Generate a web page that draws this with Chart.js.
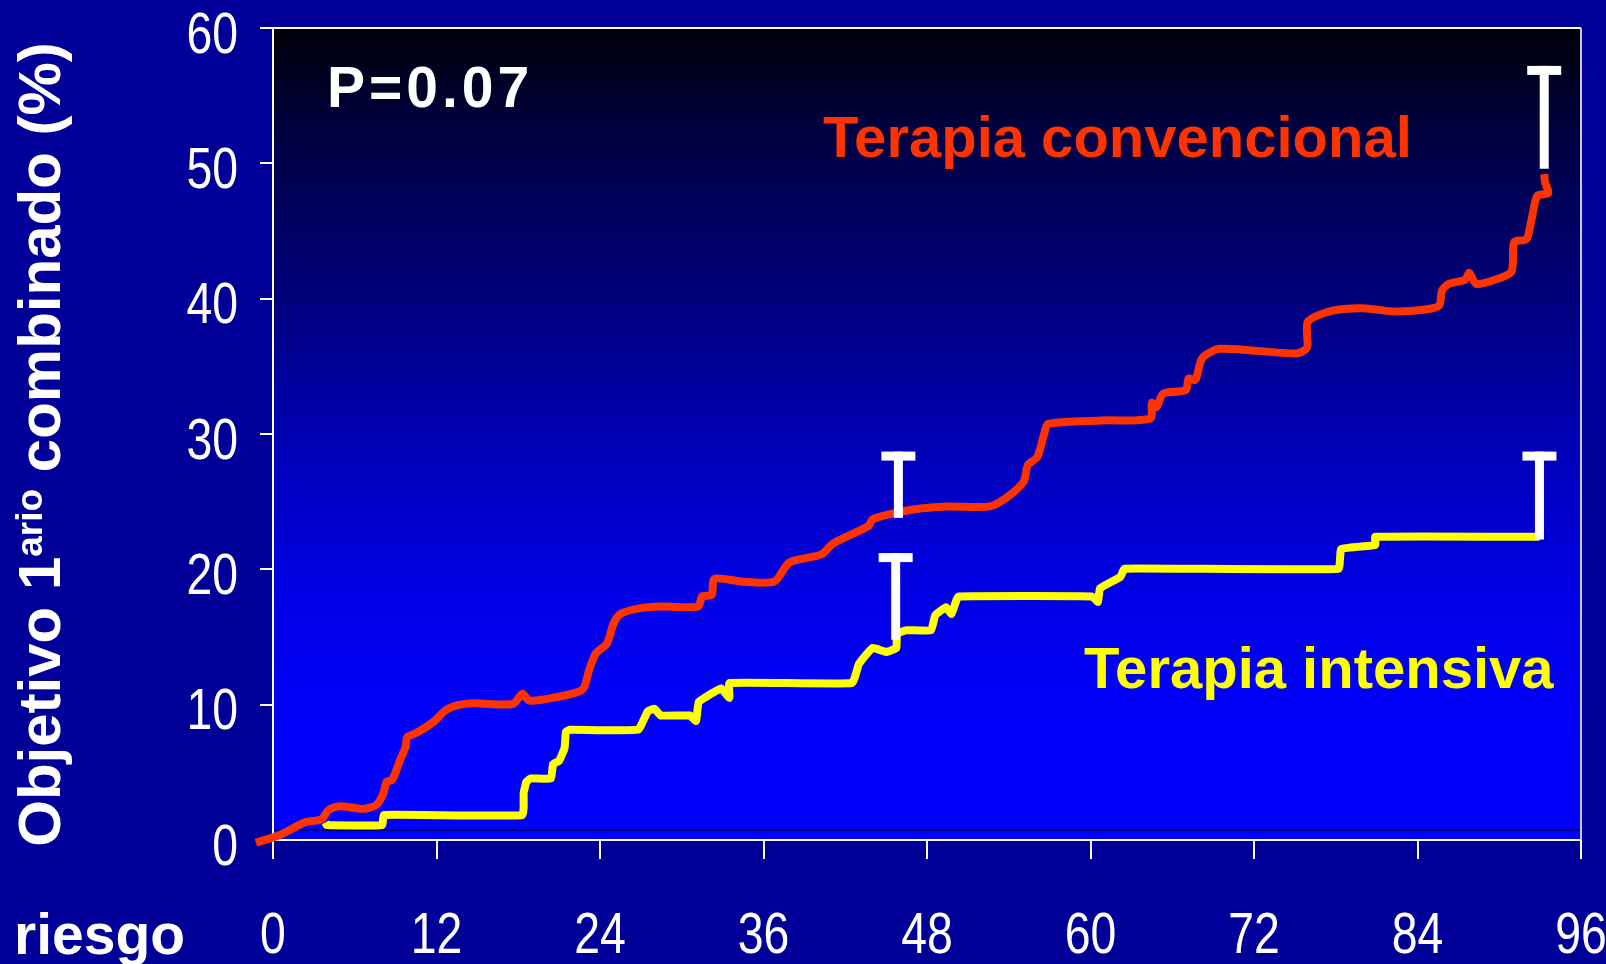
<!DOCTYPE html>
<html><head><meta charset="utf-8">
<script src="https://cdn.jsdelivr.net/npm/chart.js@4.4.0/dist/chart.umd.min.js"></script>
<style>html,body{margin:0;padding:0;background:#000099;overflow:hidden}#wrap{width:1606px;height:964px;position:relative}</style>
</head><body><div id="wrap"><canvas id="c" width="1606" height="964"></canvas></div>
<script>
// ---- data ----
const xTickStep = 12;
const xMin = 0, xMax = 96;
const yMin = 0, yMax = 60, yTickStep = 10;
const seriesNames = ['Terapia convencional', 'Terapia intensiva'];
const convMonths = [-1.25,0.5,1.9,2.5,3.57,4.06,4.9,6.6,7.6,8.1,8.34,8.75,9.32,9.74,9.85,10.5,11.74,12.7,13.5,14.7,17.6,18.3,18.8,20.5,22.7,23.2,23.7,24.5,25.0,25.5,26.8,28.5,31.2,31.5,32.2,32.4,34.35,36.8,37.9,40.25,41.1,43.7,44.0,45.8,47.5,49.5,52.6,53.9,55.1,55.4,56.1,56.6,56.9,60.9,64.4,64.5,64.85,65.35,67.0,67.2,67.7,68.2,69.5,75.1,75.9,75.95,77.7,80.0,82.3,84.6,85.6,85.8,86.3,87.5,87.8,88.3,89.7,90.9,91.1,92.0,92.4,92.8,93.6,93.36,93.3];
const convValues = [-0.2,0.37,1.1,1.35,1.53,2.2,2.5,2.3,2.6,3.45,4.3,4.45,5.9,6.9,7.6,7.9,8.7,9.6,9.95,10.1,10.05,10.8,10.3,10.5,11.1,12.55,13.8,14.5,16.0,16.7,17.1,17.25,17.25,18.0,18.1,19.3,19.1,19.1,20.5,21.1,21.9,23.2,23.7,24.2,24.5,24.65,24.65,25.35,26.5,27.7,28.3,30.0,30.75,31.0,31.15,32.3,32.0,33.0,33.25,34.1,34.0,35.6,36.3,35.95,36.4,38.3,39.1,39.3,39.05,39.2,39.5,40.6,41.1,41.4,41.9,41.1,41.4,42.0,44.2,44.4,46.0,47.6,47.8,48.6,49.2];
const intMonths = [3.85,3.95,8.0,8.15,18.3,18.4,18.6,18.9,20.4,20.55,21.0,21.4,21.5,21.8,26.8,27.5,28.0,28.45,30.6,31.05,31.25,32.4,32.9,33.5,33.5,42.5,43.0,44.0,45.0,45.75,45.8,46.5,48.3,48.6,49.4,49.8,50.15,50.3,60.1,60.55,60.7,62.2,62.5,78.2,78.4,80.9,80.9,92.95];
const intValues = [1.3,1.1,1.1,1.85,1.85,3.5,4.3,4.55,4.55,5.6,5.85,6.8,8.0,8.15,8.15,9.5,9.7,9.2,9.2,8.8,10.2,10.95,11.2,10.5,11.6,11.6,13.0,14.2,13.9,14.2,15.25,15.5,15.5,16.6,17.2,16.7,17.7,18.0,18.0,17.6,18.6,19.45,20.05,20.05,21.5,21.8,22.4,22.4];
// confidence-interval "T" marks
const ciMonths = [45.9, 45.7, 92.95, 93.3];
const ciUpper = [28.7, 21.2, 28.7, 57.2];
const ciLower = [23.8, 14.8, 22.2, 49.6];
const pValueText = 'P=0.07';
const yTitleMain1 = 'Objetivo 1';
const yTitleSup = 'ario';
const yTitleMain2 = ' combinado (%)';
const xRowLabel = 'riesgo';

// ---- styles ----
const RED = '#FF3300', YELLOW = '#FFFF00', BG = '#000099';
const BOLD = "'Liberation Sans',Arial,sans-serif";
const TICKFONT = "58px 'Liberation Sans',Arial,sans-serif";
const SQUEEZE = 0.8;

const toXY = (xs, ys) => xs.map((x, i) => ({x, y: ys[i]}));

function squeezedText(ctx, txt, x, y, align) {
  ctx.save();
  ctx.translate(x, y);
  ctx.scale(SQUEEZE, 1);
  ctx.textAlign = align;
  ctx.fillText(txt, 0, 0);
  ctx.restore();
}

const decor = {
  id: 'decor',
  beforeDraw(chart) {
    const {ctx, chartArea: a} = chart;
    ctx.save();
    ctx.fillStyle = BG;
    ctx.fillRect(0, 0, chart.width, chart.height);
    const g = ctx.createLinearGradient(0, a.top, 0, a.bottom);
    g.addColorStop(0, '#000008');
    g.addColorStop(0.126, '#000040');
    g.addColorStop(0.335, '#00007D');
    g.addColorStop(0.52, '#0000B9');
    g.addColorStop(0.70, '#0000E6');
    g.addColorStop(0.88, '#0000FF');
    g.addColorStop(1, '#0000FF');
    ctx.fillStyle = g;
    ctx.fillRect(a.left, a.top, a.right - a.left, a.bottom - a.top);
    ctx.strokeStyle = '#00005a';
    ctx.lineWidth = 1.5;
    ctx.beginPath();
    ctx.moveTo(a.left, a.bottom - 10);
    ctx.lineTo(a.right, a.bottom - 10);
    ctx.stroke();
    ctx.restore();
  },
  afterDraw(chart) {
    const {ctx, chartArea: a, scales: {x, y}} = chart;
    ctx.save();
    // top + right frame
    ctx.strokeStyle = '#ffffff';
    ctx.lineWidth = 2;
    ctx.beginPath();
    ctx.moveTo(a.left - 13, a.top);
    ctx.lineTo(a.right, a.top);
    ctx.stroke();
    ctx.strokeStyle = '#c8c8d8';
    ctx.beginPath();
    ctx.moveTo(a.right, a.top);
    ctx.lineTo(a.right, a.bottom);
    ctx.stroke();
    // CI T marks
    ctx.fillStyle = '#ffffff';
    ciMonths.forEach((m, i) => {
      const px = x.getPixelForValue(m);
      const top = y.getPixelForValue(ciUpper[i]);
      const bot = y.getPixelForValue(ciLower[i]);
      ctx.fillRect(px - 4.5, top, 9, bot - top);
      ctx.fillRect(px - 17, top, 34, 9);
    });
    // tick labels (condensed), from the library's scale ticks
    ctx.fillStyle = '#ffffff';
    ctx.font = TICKFONT;
    ctx.textBaseline = 'alphabetic';
    x.ticks.forEach(t => squeezedText(ctx, String(t.value), x.getPixelForValue(t.value), 953, 'center'));
    y.ticks.forEach(t => squeezedText(ctx, String(t.value), a.left - 35, y.getPixelForValue(t.value) + 24.5, 'right'));
    // texts
    ctx.textAlign = 'left';
    ctx.font = 'bold 57px ' + BOLD;
    ctx.letterSpacing = '4px';
    ctx.fillText(pValueText, 327, 107);
    ctx.letterSpacing = '0px';
    ctx.font = 'bold 58px ' + BOLD;
    ctx.fillStyle = RED;
    ctx.fillText(seriesNames[0], 823, 157);
    ctx.fillStyle = YELLOW;
    ctx.fillText(seriesNames[1], 1084, 688);
    ctx.fillStyle = '#ffffff';
    ctx.font = 'bold 57px ' + BOLD;
    ctx.fillText(xRowLabel, 14, 954);
    // y title with superscript
    ctx.translate(60, 444.5);
    ctx.rotate(-Math.PI / 2);
    const mainF = 'bold 60px ' + BOLD, supF = 'bold 37px ' + BOLD;
    ctx.font = mainF; const w1 = ctx.measureText(yTitleMain1).width, w3 = ctx.measureText(yTitleMain2).width;
    ctx.font = supF; const w2 = ctx.measureText(yTitleSup).width;
    let sx = -(w1 + w2 + w3) / 2;
    ctx.font = mainF; ctx.fillText(yTitleMain1, sx, 0); sx += w1;
    ctx.font = supF; ctx.fillText(yTitleSup, sx, -18); sx += w2;
    ctx.font = mainF; ctx.fillText(yTitleMain2, sx, 0);
    ctx.restore();
  }
};

new Chart(document.getElementById('c'), {
  type: 'line',
  data: {
    datasets: [
      {label: seriesNames[0], data: toXY(convMonths, convValues), borderColor: RED, borderWidth: 8, tension: 0.25, pointRadius: 0, clip: false, borderJoinStyle: 'round', borderCapStyle: 'butt'},
      {label: seriesNames[1], data: toXY(intMonths, intValues), borderColor: YELLOW, borderWidth: 8, tension: 0.1, pointRadius: 0, clip: false, borderJoinStyle: 'round', borderCapStyle: 'butt'}
    ]
  },
  options: {
    responsive: false, animation: false, devicePixelRatio: 1,
    layout: {padding: {top: 28, right: 25, bottom: 0, left: 0}},
    plugins: {legend: {display: false}, tooltip: {enabled: false}, title: {display: false}},
    scales: {
      x: {
        type: 'linear', min: xMin, max: xMax,
        ticks: {stepSize: xTickStep, display: false},
        grid: {drawOnChartArea: false, drawTicks: true, tickLength: 19, color: '#ffffff', lineWidth: 2},
        border: {display: true, color: '#ffffff', width: 2},
        afterFit(s) { s.height = 124; }
      },
      y: {
        type: 'linear', min: yMin, max: yMax,
        ticks: {stepSize: yTickStep, display: false},
        grid: {drawOnChartArea: false, drawTicks: true, tickLength: 13, color: '#ffffff', lineWidth: 2},
        border: {display: true, color: '#ffffff', width: 2},
        afterFit(s) { s.width = 273; }
      }
    }
  },
  plugins: [decor]
});
</script></body></html>
